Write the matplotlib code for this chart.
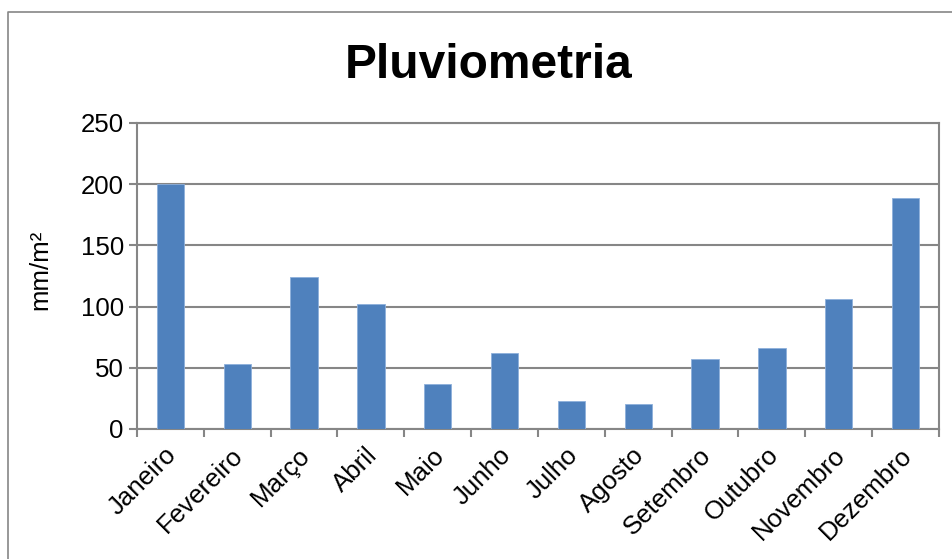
import matplotlib
matplotlib.use("Agg")
import matplotlib.pyplot as plt
from matplotlib.lines import Line2D
from matplotlib.transforms import ScaledTranslation
import numpy as np

plt.rcParams['font.family'] = ['Liberation Sans', 'DejaVu Sans']

months = ["Janeiro", "Fevereiro", "Março", "Abril", "Maio", "Junho",
          "Julho", "Agosto", "Setembro", "Outubro", "Novembro", "Dezembro"]
rainfall = [200, 53, 124, 102, 37, 62, 23, 20.5, 57, 66, 106, 189]
y_ticks = [0, 50, 100, 150, 200, 250]

W, H, DPI = 953, 559, 100
fig = plt.figure(figsize=(W / DPI, H / DPI), dpi=DPI)
fig.patch.set_facecolor("white")

grey = "#868686"
bar_color = "#4F81BD"
label_size = 18.6

# plot area in pixel coordinates
left, right, top, bottom = 137, 939, 123, 429
ax = fig.add_axes([left / W, 1 - bottom / H, (right - left) / W, (bottom - top) / H])

x = np.arange(len(months))
ax.bar(x, rainfall, width=0.41, color=bar_color, edgecolor="#8EB0DB",
       linewidth=0.6, zorder=3)

ax.set_xlim(-0.5, len(months) - 0.5)
ax.set_ylim(0, 250)
ax.set_yticks(y_ticks)
ax.set_yticklabels([str(v) for v in y_ticks], fontsize=label_size)
ax.yaxis.grid(True, color=grey, linewidth=1.5, zorder=0)
ax.set_axisbelow(True)

# category labels at centres, tick marks at category boundaries
ax.set_xticks(x)
ax.set_xticklabels(months, fontsize=label_size, rotation=45, ha="right",
                   va="top", rotation_mode="anchor")
ax.tick_params(axis="x", which="major", length=0, pad=10)
shift = ScaledTranslation(-0.06, 0.0, fig.dpi_scale_trans)
for lbl in ax.get_xticklabels():
    lbl.set_transform(lbl.get_transform() + shift)
ax.set_xticks(np.arange(-0.5, len(months)), minor=True)
ax.tick_params(axis="x", which="minor", length=6, width=1.5, color=grey,
               direction="out")
ax.tick_params(axis="y", length=5.5, width=1.5, color=grey, direction="out",
               pad=4)

for s in ax.spines.values():
    s.set_color(grey)
    s.set_linewidth(1.5)

ax.set_ylabel("mm/m²", fontsize=label_size)
ax.yaxis.set_label_coords(-0.105, 0.52)

fig.text(489 / W, 1 - 78 / H, "Pluviometria", fontsize=34.5, fontweight="bold",
         ha="center", va="baseline")

# chart frame (left and top edges)
fig.add_artist(Line2D([8 / W, 8 / W, 1.0], [0.0, 1 - 12 / H, 1 - 12 / H],
                      transform=fig.transFigure, color=grey, linewidth=1.2))

fig.savefig("out.png", dpi=DPI, facecolor="white")
